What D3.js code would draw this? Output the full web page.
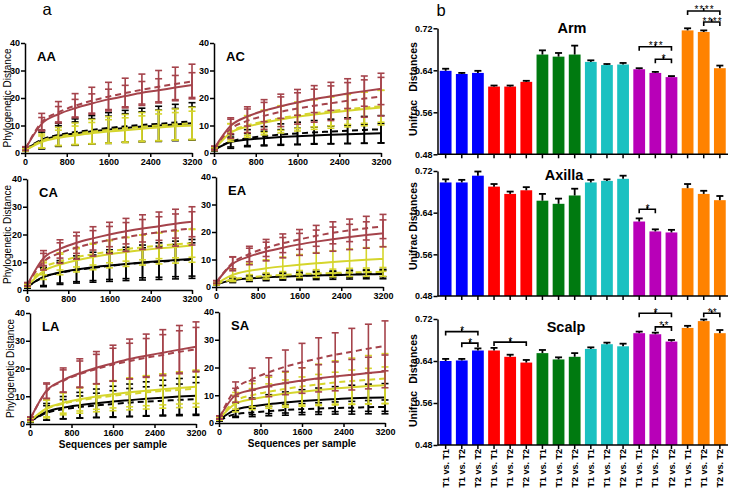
<!DOCTYPE html>
<html><head><meta charset="utf-8">
<script src="https://cdn.jsdelivr.net/npm/d3@7/dist/d3.min.js"></script>
<style>
body{margin:0;background:#fff;}
svg{display:block;}
</style></head><body>
<svg id="chart" width="733" height="492"></svg>
<script>
// ---------------- DATA ----------------
const seqDepth = [10,320,640,960,1280,1600,1920,2240,2560,2880,3200];
const rareXTicks = [0,800,1600,2400,3200];
const rareYTicks = [0,10,20,30,40];
const panelNames = ["AA","AC","CA","EA","LA","SA"];
// series order: T1 brown, T2 brown (dashed), T1 black, T2 black (dashed), T1 yellow, T2 yellow (dashed)
const seriesNames = ["brown T1","brown T2","black T1","black T2","yellow T1","yellow T2"];

const AA_mean = [
 [1.6,10.6,14.1,16.3,18.0,19.5,20.7,21.9,22.8,23.8,24.7],
 [1.6,11.2,14.8,17.2,19.0,20.5,21.8,23.0,24.1,25.1,26.0],
 [1.3,4.6,6.2,7.1,7.9,8.5,9.1,9.6,10.0,10.4,10.8],
 [1.3,4.9,6.6,7.6,8.4,9.1,9.7,10.2,10.6,11.1,11.5],
 [1.0,4.0,5.5,6.4,7.2,7.8,8.3,8.8,9.3,9.7,10.0],
 [1.1,4.4,6.0,7.0,7.8,8.4,9.0,9.5,10.0,10.4,10.8]];
const AA_sd = [
 [0.6,2.3,2.8,3.2,3.5,3.7,3.9,4.1,4.2,4.4,4.5],
 [0.7,3.2,3.9,4.4,4.9,5.2,5.4,5.7,5.9,6.1,6.3],
 [0.5,3.0,3.7,4.2,4.6,4.9,5.2,5.4,5.6,5.8,6.0],
 [0.5,3.4,4.2,4.8,5.2,5.6,5.8,6.1,6.4,6.6,6.8],
 [0.4,2.2,2.8,3.4,3.9,4.3,4.5,4.7,4.9,5.0,5.2],
 [0.4,2.5,3.3,3.9,4.4,4.8,5.0,5.2,5.5,5.6,5.8]];

const AC_mean = [
 [1.8,9.9,13.3,15.4,17.0,18.4,19.6,20.6,21.6,22.5,23.3],
 [1.8,8.8,11.7,13.5,15.0,16.2,17.2,18.1,19.0,19.8,20.5],
 [1.2,4.0,4.9,5.4,5.8,6.1,6.4,6.6,6.8,7.0,7.2],
 [1.3,4.2,5.4,6.1,6.7,7.1,7.5,7.8,8.1,8.4,8.6],
 [1.4,7.4,9.6,11.0,12.2,13.2,14.0,14.7,15.4,16.0,16.5],
 [1.5,7.8,10.0,11.5,12.7,13.7,14.5,15.2,15.9,16.5,17.0]];
const AC_sd = [
 [0.6,2.9,3.5,4.0,4.4,4.7,4.9,5.1,5.4,5.5,5.7],
 [0.7,3.5,4.3,4.9,5.4,5.7,6.0,6.3,6.6,6.8,7.0],
 [0.4,1.8,2.2,2.5,2.7,2.9,3.0,3.2,3.3,3.4,3.5],
 [0.5,2.5,3.1,3.5,3.9,4.1,4.3,4.5,4.7,4.9,5.0],
 [0.5,3.2,3.9,4.4,4.9,5.2,5.4,5.7,5.9,6.1,6.3],
 [0.5,2.9,3.6,4.1,4.5,4.8,5.0,5.3,5.5,5.7,5.8]];

const CA_mean = [
 [2.0,11.5,14.8,17.0,18.6,20.0,21.2,22.2,23.0,23.9,24.6],
 [2.0,10.2,13.3,15.3,16.8,18.0,19.1,20.0,20.8,21.6,22.2],
 [1.2,4.7,6.3,7.4,8.2,8.8,9.4,9.9,10.4,10.8,11.2],
 [1.2,4.6,6.2,7.2,8.0,8.7,9.3,9.8,10.2,10.6,11.0],
 [1.5,6.8,9.2,10.7,11.9,12.9,13.7,14.4,15.0,15.5,16.0],
 [1.6,8.0,10.3,11.8,12.9,13.9,14.7,15.4,16.0,16.5,16.8]];
const CA_sd = [
 [0.6,2.7,3.3,3.8,4.2,4.4,4.6,4.9,5.1,5.2,5.4],
 [0.7,3.0,3.7,4.2,4.6,4.9,5.2,5.4,5.6,5.8,6.0],
 [0.5,3.5,4.3,4.9,5.4,5.7,6.0,6.3,6.6,6.8,7.0],
 [0.5,3.0,3.7,4.2,4.6,4.9,5.2,5.4,5.6,5.8,6.0],
 [0.5,3.0,3.7,4.2,4.6,4.9,5.2,5.4,5.6,5.8,6.0],
 [0.5,2.5,3.1,3.5,3.9,4.1,4.3,4.5,4.7,4.9,5.0]];

const EA_mean = [
 [1.8,8.4,11.1,12.9,14.3,15.5,16.5,17.4,18.2,18.9,19.5],
 [1.8,8.8,12.0,14.2,15.9,17.3,18.6,19.7,20.6,21.4,22.0],
 [1.0,2.5,3.1,3.5,3.8,4.0,4.2,4.3,4.5,4.6,4.7],
 [1.0,2.6,3.2,3.6,3.9,4.1,4.3,4.5,4.7,4.8,4.9],
 [1.2,4.4,5.9,6.8,7.5,8.1,8.6,9.1,9.5,9.9,10.2],
 [1.1,2.8,3.5,4.0,4.4,4.7,4.9,5.1,5.3,5.4,5.5]];
const EA_sd = [
 [0.5,2.5,3.0,3.4,3.7,4.0,4.2,4.4,4.6,4.8,4.9],
 [0.5,2.2,2.8,3.1,3.4,3.6,3.8,4.0,4.1,4.3,4.4],
 [0.3,0.9,1.1,1.2,1.3,1.4,1.5,1.5,1.6,1.6,1.7],
 [0.3,0.7,0.8,0.9,1.0,1.0,1.1,1.1,1.2,1.2,1.2],
 [0.4,2.0,2.7,3.1,3.4,3.7,3.9,4.1,4.3,4.4,4.5],
 [0.3,0.8,1.0,1.1,1.2,1.3,1.4,1.4,1.5,1.5,1.6]];

const LA_mean = [
 [2.0,12.0,15.8,18.3,20.3,21.9,23.4,24.6,25.7,26.8,27.8],
 [2.0,11.8,15.5,18.0,19.8,21.4,22.7,23.9,24.9,26.0,26.9],
 [1.0,4.4,5.9,6.8,7.5,8.1,8.6,9.1,9.5,9.9,10.2],
 [1.0,4.0,5.3,6.1,6.7,7.2,7.7,8.1,8.4,8.7,9.0],
 [1.3,5.6,7.6,8.9,9.9,10.7,11.4,12.0,12.5,13.0,13.4],
 [1.3,5.4,7.3,8.5,9.4,10.2,10.8,11.4,11.9,12.3,12.7]];
const LA_sd = [
 [0.5,2.8,4.4,5.2,5.8,6.5,7.2,7.8,8.3,8.7,9.0],
 [0.5,2.6,4.0,4.7,5.3,5.9,6.4,6.9,7.3,7.6,7.9],
 [0.4,3.0,4.0,4.6,5.1,5.5,5.8,6.1,6.3,6.5,6.7],
 [0.4,2.6,3.5,4.0,4.4,4.8,5.1,5.3,5.5,5.7,5.9],
 [0.4,3.0,3.7,4.2,4.6,4.9,5.2,5.4,5.6,5.8,6.0],
 [0.4,3.2,4.0,4.6,5.0,5.4,5.7,6.0,6.2,6.4,6.6]];

const SA_mean = [
 [2.0,10.0,11.9,13.3,14.4,15.3,16.1,16.8,17.4,18.0,18.6],
 [2.0,12.2,15.8,18.3,20.3,21.9,23.3,24.6,25.7,26.8,27.8],
 [1.2,4.8,6.0,6.8,7.4,7.9,8.3,8.6,8.9,9.1,9.2],
 [1.0,3.2,3.8,4.3,4.7,5.0,5.2,5.4,5.5,5.7,5.8],
 [1.5,7.0,8.6,9.7,10.6,11.3,11.9,12.4,12.9,13.3,13.6],
 [1.5,8.0,10.0,11.3,12.3,13.2,13.9,14.6,15.1,15.6,16.0]];
const SA_sd = [
 [0.5,2.5,3.3,3.8,4.2,4.6,4.9,5.2,5.5,5.7,5.9],
 [0.6,2.6,4.0,5.2,6.0,6.8,7.4,7.9,8.4,8.8,9.0],
 [0.4,2.4,3.0,3.4,3.8,4.1,4.3,4.5,4.7,4.9,5.0],
 [0.3,1.2,1.5,1.7,1.9,2.0,2.1,2.2,2.3,2.4,2.5],
 [0.5,3.0,3.8,4.4,4.9,5.3,5.6,5.9,6.2,6.4,6.6],
 [0.5,3.0,4.2,5.2,6.0,6.7,7.3,7.8,8.3,8.7,9.0]];

// Panel b: Unifrac distances
const comparisons = ["T1 vs. T1","T1 vs. T2","T2 vs. T2"];
const unifracTicks = [0.48,0.56,0.64,0.72];
const armMean    = [0.639,0.633,0.635, 0.609,0.609,0.618, 0.670,0.666,0.670, 0.656,0.650,0.651, 0.642,0.635,0.627, 0.716,0.713,0.644];
const armErr     = [0.004,0.002,0.004, 0.002,0.002,0.002, 0.008,0.007,0.017, 0.003,0.002,0.003, 0.002,0.002,0.002, 0.004,0.003,0.005];
const axillaMean = [0.698,0.698,0.711, 0.690,0.676,0.683, 0.663,0.657,0.673, 0.698,0.701,0.705, 0.623,0.604,0.602, 0.687,0.676,0.664];
const axillaErr  = [0.006,0.005,0.008, 0.005,0.0045,0.006, 0.013,0.010,0.013, 0.005,0.003,0.006, 0.006,0.004,0.005, 0.008,0.006,0.008];
const scalpMean  = [0.640,0.641,0.660, 0.660,0.648,0.637, 0.655,0.643,0.648, 0.663,0.672,0.668, 0.693,0.691,0.677, 0.703,0.716,0.693];
const scalpErr   = [0.004,0.003,0.004, 0.005,0.004,0.005, 0.006,0.004,0.007, 0.003,0.003,0.005, 0.003,0.003,0.003, 0.004,0.003,0.006];
// significance brackets: [fromBar, toBar, bracket level (Unifrac units), stars]
const armSig    = [[12,14,0.685,"***"],[13,14,0.661,"*"],[15,17,0.753,"****"],[16,17,0.732,"****"]];
const axillaSig = [[12,13,0.6465,"*"]];
const scalpSig  = [[0,2,0.696,"*"],[1,2,0.674,"*"],[3,5,0.676,"*"],[12,14,0.731,"*"],[13,14,0.705,"**"],[16,17,0.731,"**"]];

// ---------------- STYLE / LAYOUT ----------------
const FONT = '"Liberation Sans", Arial, Helvetica, sans-serif';
const BROWN = "#a5434b", YEL = "#d5d52c", BLK = "#000000";
const seriesStyle = [
 {c:BROWN,d:null},{c:BROWN,d:"6,4"},
 {c:BLK,d:null},{c:BLK,d:"6,4"},
 {c:YEL,d:null},{c:YEL,d:"6,4"}];
const drawOrder = [2,3,4,5,0,1];
const groupColors = ["#0000ff","#ff0000","#007a10","#1bc1c1","#b800b8","#ff8200"];

const svg = d3.select("#chart").attr("font-family", FONT);

function styleAxis(g, fs){
  g.attr("font-family", FONT).attr("font-size", fs).attr("font-weight","bold");
  g.select(".domain").attr("stroke","#000").attr("stroke-width",1.5);
  g.selectAll(".tick line").attr("stroke","#000").attr("stroke-width",1.5);
  g.selectAll(".tick text").attr("fill","#000");
}

// ---------- panel a ----------
const rarePanels = [
 {name:"AA", mean:AA_mean, sd:AA_sd, x0:25,  x1:192, yb:153, yt:43,  ylab:10.5, xlab:false},
 {name:"AC", mean:AC_mean, sd:AC_sd, x0:214, x1:381, yb:153, yt:43,  ylab:null, xlab:false},
 {name:"CA", mean:CA_mean, sd:CA_sd, x0:27,  x1:192, yb:290, yt:179, ylab:10.5, xlab:false},
 {name:"EA", mean:EA_mean, sd:EA_sd, x0:216, x1:383, yb:287, yt:177, ylab:null, xlab:false},
 {name:"LA", mean:LA_mean, sd:LA_sd, x0:30,  x1:196, yb:424, yt:313, ylab:13.5, xlab:true},
 {name:"SA", mean:SA_mean, sd:SA_sd, x0:219, x1:385, yb:423, yt:312, ylab:null, xlab:true}];

rarePanels.forEach(p => {
  const x = d3.scaleLinear().domain([0,3200]).range([p.x0,p.x1]);
  const y = d3.scaleLinear().domain([0,40]).range([p.yb,p.yt]);
  const g = svg.append("g");
  const line = d3.line().x((d,i)=>x(seqDepth[i])).y(d=>y(d)).curve(d3.curveMonotoneX);
  drawOrder.forEach(si => {
    const st = seriesStyle[si];
    const m = p.mean[si], s = p.sd[si];
    const eb = g.append("g").attr("stroke",st.c).attr("stroke-width",1.6).attr("fill","none");
    m.forEach((v,i)=>{
      const cx = x(seqDepth[i]);
      const lo = y(v - s[i]), hi = y(v + s[i]);
      eb.append("line").attr("x1",cx).attr("x2",cx).attr("y1",lo).attr("y2",hi);
      eb.append("line").attr("x1",cx-3.5).attr("x2",cx+3.5).attr("y1",lo).attr("y2",lo);
      eb.append("line").attr("x1",cx-3.5).attr("x2",cx+3.5).attr("y1",hi).attr("y2",hi);
    });
    g.append("path").datum(m).attr("d",line).attr("fill","none")
      .attr("stroke",st.c).attr("stroke-width",2).attr("stroke-dasharray",st.d);
  });
  const xa = g.append("g").attr("transform",`translate(0,${p.yb})`)
    .call(d3.axisBottom(x).tickValues(rareXTicks).tickSize(4).tickSizeOuter(0).tickPadding(2).tickFormat(d3.format("d")));
  styleAxis(xa, 9);
  const ya = g.append("g").attr("transform",`translate(${p.x0},0)`)
    .call(d3.axisLeft(y).tickValues(rareYTicks).tickSize(4).tickSizeOuter(0).tickPadding(1));
  styleAxis(ya, 9);
  g.append("text").attr("x",p.x0+12).attr("y",p.yt+18).attr("font-size",13).attr("font-weight","bold").text(p.name);
  if(p.ylab !== null){
    g.append("text").attr("transform",`translate(${p.ylab},${(p.yb+p.yt)/2}) rotate(-90)`)
      .attr("text-anchor","middle").attr("font-size",10).text("Phylogenetic Distance");
  }
  if(p.xlab){
    g.append("text").attr("x",(p.x0+p.x1)/2).attr("y",p.yb+24).attr("text-anchor","middle")
      .attr("font-size",10).attr("font-weight","bold").text("Sequences per sample");
  }
});
svg.append("text").attr("x",47).attr("y",15).attr("text-anchor","middle").attr("font-size",16.5).text("a");

// ---------- panel b ----------
const barKeys = [];
panelNames.forEach(gn => comparisons.forEach(c => barKeys.push(gn+"|"+c)));
const barX = d3.scaleBand().domain(barKeys).range([437.5,728]).paddingInner(0.27).paddingOuter(0.14);

const barPanels = [
 {title:"Arm",    tx:572, mean:armMean,    err:armErr,    sig:armSig,    yb:154.3, yt:28.3, ty:33,  labels:false, uy:118, dy:67},
 {title:"Axilla", tx:564, mean:axillaMean, err:axillaErr, sig:axillaSig, yb:296,   yt:171,  ty:180, labels:false, uy:252, dy:207},
 {title:"Scalp",  tx:566, mean:scalpMean,  err:scalpErr,  sig:scalpSig,  yb:445,   yt:319,  ty:332, labels:true,  uy:409, dy:359}];

barPanels.forEach(p => {
  const y = d3.scaleLinear().domain([0.48,0.72]).range([p.yb,p.yt]);
  const g = svg.append("g");
  const bw = barX.bandwidth();
  g.selectAll("rect.bar").data(p.mean).join("rect").attr("class","bar")
    .attr("x",(d,i)=>barX(barKeys[i])).attr("width",bw)
    .attr("y",d=>y(d)).attr("height",d=>y(0.48)-y(d))
    .attr("fill",(d,i)=>groupColors[Math.floor(i/3)]);
  p.mean.forEach((v,i)=>{
    const cx = barX(barKeys[i]) + bw/2;
    const top = y(v + p.err[i]);
    g.append("line").attr("x1",cx).attr("x2",cx).attr("y1",y(v)).attr("y2",top).attr("stroke","#000").attr("stroke-width",1.8);
    g.append("line").attr("x1",cx-3.5).attr("x2",cx+3.5).attr("y1",top).attr("y2",top).attr("stroke","#000").attr("stroke-width",1.8);
  });
  const xa = g.append("g").attr("transform",`translate(0,${p.yb})`)
    .call(d3.axisBottom(barX).tickSize(4).tickSizeOuter(0).tickFormat(k => p.labels ? k.split("|")[1] : ""));
  styleAxis(xa, 9);
  xa.select(".domain").attr("d",`M437.5,0H728`);
  if(p.labels){
    xa.selectAll(".tick text").attr("transform","rotate(-90)").attr("x",-4).attr("y",0)
      .attr("dy","0.35em").attr("text-anchor","end");
  }
  const ya = g.append("g").attr("transform",`translate(437.5,0)`)
    .call(d3.axisLeft(y).tickValues(unifracTicks).tickSize(4).tickSizeOuter(0).tickPadding(1).tickFormat(d3.format(".2f")));
  styleAxis(ya, 9);
  g.append("text").attr("x",p.tx).attr("y",p.ty).attr("text-anchor","middle").attr("font-size",14.5).attr("font-weight","bold").text(p.title);
  g.append("text").attr("transform",`translate(413,${p.uy}) rotate(-90)`).attr("text-anchor","middle").attr("dy","0.35em")
    .attr("font-size",10.5).attr("font-weight","bold").text("Unifrac");
  g.append("text").attr("transform",`translate(413,${p.dy}) rotate(-90)`).attr("text-anchor","middle").attr("dy","0.35em")
    .attr("font-size",10.5).attr("font-weight","bold").text("Distances");
  p.sig.forEach(([a,b,lvl,stars])=>{
    const xa1 = barX(barKeys[a]) + bw/2, xb1 = barX(barKeys[b]) + bw/2;
    const yy = y(lvl), xm = (xa1+xb1)/2;
    g.append("path").attr("d",`M${xa1},${yy+4}V${yy}H${xb1}V${yy+4}M${xm},${yy}V${yy-3}`)
      .attr("fill","none").attr("stroke","#000").attr("stroke-width",1.6);
    g.append("text").attr("x",xm+1).attr("y",yy+2.5).attr("text-anchor","middle").attr("font-size",10)
      .attr("letter-spacing",1.2).text(stars);
  });
});
svg.append("text").attr("x",441).attr("y",15.5).attr("text-anchor","middle").attr("font-size",16.5).text("b");
</script>
</body></html>
